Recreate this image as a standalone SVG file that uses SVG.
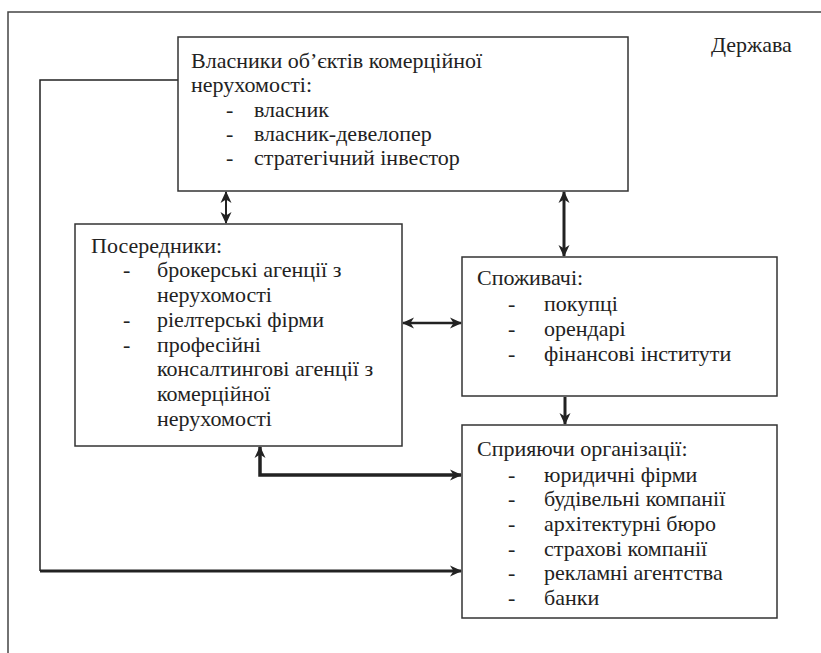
<svg xmlns="http://www.w3.org/2000/svg" width="821" height="653" viewBox="0 0 821 653">
<style>
text{font-family:"Liberation Serif","Times New Roman",serif;font-size:22px;fill:#222}
.box{fill:#fff;stroke:#333;stroke-width:1.5}
.frame{fill:none;stroke:#444;stroke-width:1.5}
.c{fill:none;stroke:#222}
</style>
<defs>
<marker id="ah" markerUnits="userSpaceOnUse" markerWidth="12" markerHeight="12" refX="11" refY="6" orient="auto-start-reverse" viewBox="0 0 12 12">
<path d="M0,0.5 L12,6 L0,11.5 L3.5,6 z" fill="#222"/>
</marker>
</defs>
<g id="frame">
<path class="frame" d="M8,653 V12 H821"/>
<text x="711" y="52">Держава</text>
</g>
<g id="connectors">
<path class="c" stroke-width="1.5" d="M178,80 H40 V571"/>
<path class="c" stroke-width="3" d="M40,571 H461" marker-end="url(#ah)"/>
<path class="c" stroke-width="2" d="M226,192 V223" marker-start="url(#ah)" marker-end="url(#ah)"/>
<path class="c" stroke-width="3" d="M564,192 V256" marker-start="url(#ah)" marker-end="url(#ah)"/>
<path class="c" stroke-width="2.5" d="M403,323 H461" marker-start="url(#ah)" marker-end="url(#ah)"/>
<path class="c" stroke-width="3" d="M565,397 V424" marker-end="url(#ah)"/>
<path class="c" stroke-width="3.5" d="M260,447 V475 H461" marker-start="url(#ah)" marker-end="url(#ah)"/>
</g>
<g id="owners">
<rect class="box" x="178" y="37" width="450" height="154"/>
<text x="191" y="68">Власники об’єктів комерційної</text>
<text x="191" y="92">нерухомості:</text>
<text x="226" y="117">-</text><text x="254" y="117">власник</text>
<text x="226" y="141">-</text><text x="254" y="141">власник-девелопер</text>
<text x="226" y="165">-</text><text x="254" y="165">стратегічний інвестор</text>
</g>
<g id="intermediaries">
<rect class="box" x="75" y="224" width="327" height="222"/>
<text x="91" y="253">Посередники:</text>
<text x="123" y="277">-</text><text x="157" y="277">брокерські агенції з</text>
<text x="157" y="302">нерухомості</text>
<text x="123" y="327">-</text><text x="157" y="327">ріелтерські фірми</text>
<text x="123" y="352">-</text><text x="157" y="352">професійні</text>
<text x="157" y="376">консалтингові агенції з</text>
<text x="157" y="401">комерційної</text>
<text x="157" y="426">нерухомості</text>
</g>
<g id="consumers">
<rect class="box" x="462" y="257" width="315" height="139"/>
<text x="477" y="285">Споживачі:</text>
<text x="508" y="311">-</text><text x="544" y="311">покупці</text>
<text x="508" y="336">-</text><text x="544" y="336">орендарі</text>
<text x="508" y="361">-</text><text x="544" y="361">фінансові інститути</text>
</g>
<g id="support">
<rect class="box" x="462" y="425" width="315" height="193"/>
<text x="477" y="456">Сприяючи організації:</text>
<text x="508" y="482">-</text><text x="544" y="482">юридичні фірми</text>
<text x="508" y="506">-</text><text x="544" y="506">будівельні компанії</text>
<text x="508" y="531">-</text><text x="544" y="531">архітектурні бюро</text>
<text x="508" y="556">-</text><text x="544" y="556">страхові компанії</text>
<text x="508" y="580">-</text><text x="544" y="580">рекламні агентства</text>
<text x="508" y="605">-</text><text x="544" y="605">банки</text>
</g>
</svg>
